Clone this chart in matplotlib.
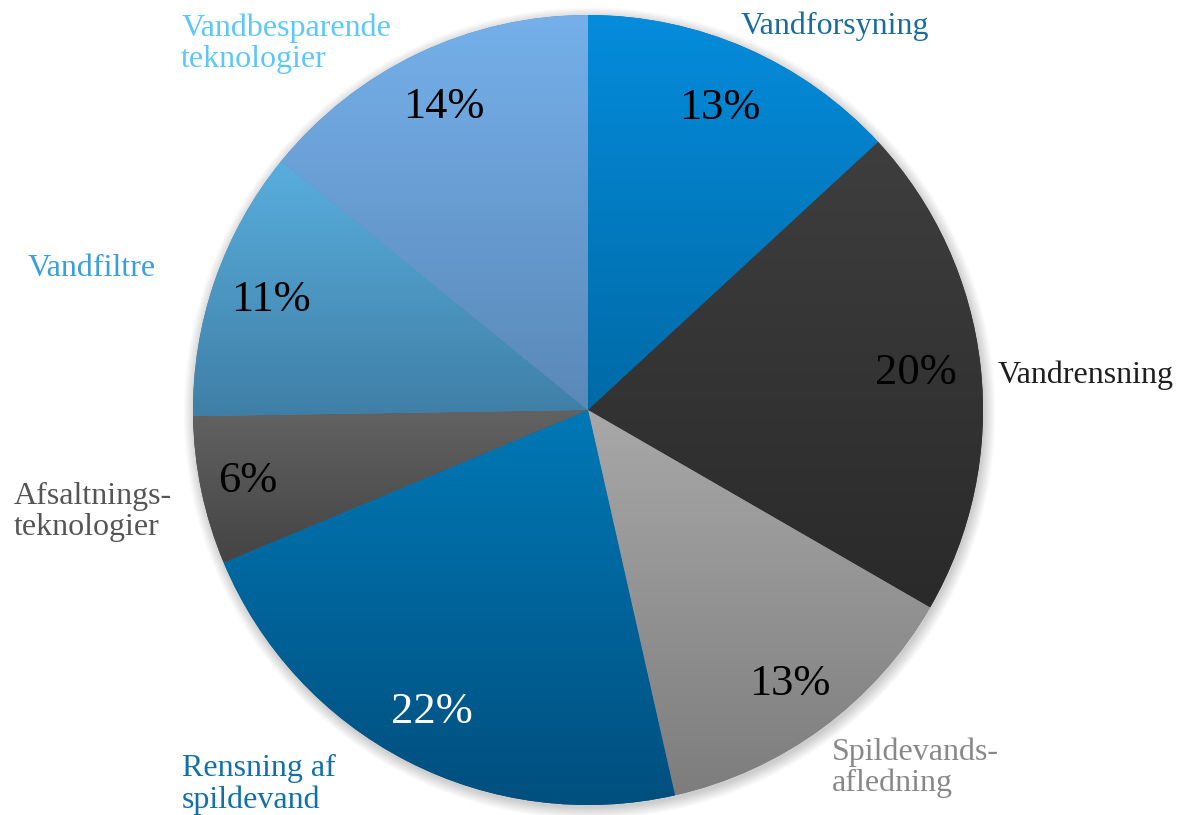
import matplotlib.pyplot as plt
import numpy as np
from matplotlib.colors import LinearSegmentedColormap
from matplotlib.patches import Circle

# data
kategorier = ["Vandforsyning", "Vandrensning", "Spildevands-\nafledning",
              "Rensning af\nspildevand", "Afsaltnings-\nteknologier",
              "Vandfiltre", "Vandbesparende\nteknologier"]
andele = [13, 20, 13, 22, 6, 11, 14]

# farver (top -> bund gradient)
farve_top = ["#058cdc", "#3e3e3e", "#a8a8a8", "#0078b6", "#626262", "#59aede", "#75b0ea"]
farve_bund = ["#006aa6", "#2a2a2a", "#7d7d7d", "#004f7e", "#444444", "#3f7fa6", "#5a88b8"]
tekstfarver = ["#1a6c9c", "#1e1e1e", "#888888", "#1170a8", "#555555", "#3a9fdc", "#5cc8fa"]
pct_farver = ["black", "black", "black", "white", "black", "black", "black"]
pct_afstand = [0.835, 0.835, 0.86, 0.86, 0.88, 0.85, 0.85]

# label placering i radius-enheder (venstre kant / centrum)
label_pos = [(0.625, 0.972), (1.038, 0.088), (0.618, -0.905), (-1.028, -0.948),
             (-1.453, -0.259), (-1.418, 0.357), (-1.030, 0.927)]
label_ha = ["center", "left", "left", "left", "left", "left", "left"]

plt.rcParams['font.family'] = ['Liberation Serif', 'DejaVu Serif']

fig = plt.figure(figsize=(11.84, 8.15), dpi=100)
ax = fig.add_axes([0, 0, 1, 1])

# blød skygge under cirklen
for i in range(10):
    ax.add_patch(Circle((0.004, -0.008), 1 + i * 0.003, color="black",
                        alpha=0.018, lw=0, zorder=0))

wedges, _ = ax.pie(andele, startangle=90, counterclock=False, radius=1,
                   colors=farve_bund, wedgeprops=dict(linewidth=0))

grad = np.linspace(0, 1, 256)[:, None]
for w, c1, c2 in zip(wedges, farve_top, farve_bund):
    w.set_zorder(1)
    bb = w.get_path().get_extents()
    cmap = LinearSegmentedColormap.from_list("g", [c1, c2])
    im = ax.imshow(grad, extent=(bb.x0, bb.x1, bb.y0, bb.y1), origin="upper",
                   cmap=cmap, aspect="auto", interpolation="bilinear", zorder=2)
    im.set_clip_path(w)

# procent-labels
for w, v, d, fc in zip(wedges, andele, pct_afstand, pct_farver):
    ang = np.deg2rad((w.theta1 + w.theta2) / 2)
    ax.text(d * np.cos(ang), d * np.sin(ang), f"{v}%", ha="center", va="center",
            fontsize=32, color=fc, zorder=3)

# kategori-labels
for navn, (x, y), ha, fc in zip(kategorier, label_pos, label_ha, tekstfarver):
    ax.text(x, y, navn, ha=ha, va="center", fontsize=23, color=fc,
            linespacing=1.08, zorder=3)

R = 395
ax.set_xlim(-588 / R, (1184 - 588) / R)
ax.set_ylim(-(815 - 410) / R, 410 / R)
ax.set_aspect("equal")
ax.axis("off")

plt.savefig("out.png", dpi=100)
